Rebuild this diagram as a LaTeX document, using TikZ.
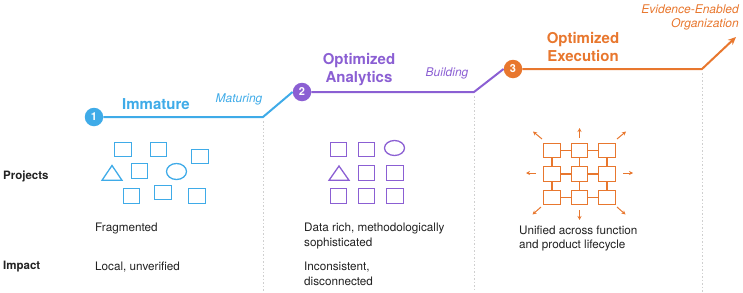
\documentclass[tikz,border=0pt]{standalone}
\usepackage{fontspec}
\setmainfont{TeX Gyre Heros}
\usetikzlibrary{arrows.meta,shapes.geometric}
\definecolor{cblue}{HTML}{3FABE8}
\definecolor{cpurple}{HTML}{8B5FD3}
\definecolor{corange}{HTML}{E8772E}
\definecolor{cgrid}{HTML}{CFCFCF}
\definecolor{ctext}{HTML}{222222}
\begin{document}
\begin{tikzpicture}[x=1pt,y=-1pt,
  stagedot/.style={circle, fill=#1, inner sep=0pt, minimum size=18.5pt, text=white, font=\bfseries\fontsize{11}{11}\selectfont},
  stageline/.style={line width=2pt, draw=#1},
  title/.style={font=\bfseries\fontsize{15}{18}\selectfont, align=center, text=#1, inner sep=0pt},
  phase/.style={font=\itshape\fontsize{12}{14}\selectfont, text=#1, inner sep=0pt},
  body/.style={font=\fontsize{11.7}{14.5}\selectfont, align=left, anchor=west, inner sep=0pt, text=ctext},
  rowlabel/.style={font=\bfseries\fontsize{11.5}{14}\selectfont, anchor=west, inner sep=0pt, text=ctext},
  sep/.style={cgrid, line width=0.8pt, dash pattern=on 1.5pt off 2pt},
  box/.style={draw=#1, line width=1.3pt, minimum width=16.5pt, minimum height=14.5pt, inner sep=0pt, outer sep=0pt},
  oval/.style={draw=#1, ellipse, line width=1.3pt, minimum width=20pt, minimum height=16pt, inner sep=0pt},
  shapeline/.style={draw=#1, line width=1.3pt, line join=miter},
  ray/.style={draw=corange, line width=1pt, -{Stealth[length=4pt,width=4pt]}},
  link/.style={draw=corange, line width=1.3pt}
]
\useasboundingbox (0,0) rectangle (743,292);

% separators
\coordinate (b1) at (263,117);
\coordinate (b2) at (474,92);
\coordinate (b3) at (702,69);
\coordinate (tip) at (736,37);
\coordinate (s1top) at (263,121);
\coordinate (s1bot) at (263,292);
\coordinate (s2top) at (474,96);
\coordinate (s2bot) at (474,292);
\coordinate (s3top) at (702,73);
\coordinate (s3bot) at (702,292);
\draw[sep] (s1top) -- (s1bot);
\draw[sep] (s2top) -- (s2bot);
\draw[sep] (s3top) -- (s3bot);

% stage dots
\node[stagedot=cblue] (c1) at (94,117) {1};
\node[stagedot=cpurple] (c2) at (302,92) {2};
\node[stagedot=corange] (c3) at (513,69) {3};

% timeline
\draw[stageline=cblue] (c1.east) -- (b1) -- (c2.west);
\draw[stageline=cpurple] (c2.east) -- (b2) -- (c3.west);
\draw[stageline=corange, -{Stealth[length=8pt,width=7pt]}] (c3.east) -- (b3) -- (tip);

% titles
\node[title=cblue] (t1) at (156,104) {Immature};
\node[title=cpurple] (t2) at (359,70) {Optimized\\Analytics};
\node[title=corange] (t3) at (583,46.5) {Optimized\\Execution};
\node[phase=cblue] (p1) at (239,99) {Maturing};
\node[phase=cpurple] (p2) at (447,73) {Building};
\node[phase=corange, align=right, anchor=east] (p3) at (739,17) {Evidence-Enabled\\Organization};

% row labels
\node[rowlabel] (projects) at (3,176) {Projects};
\node[rowlabel] (impact) at (3,267) {Impact};

% body texts
\node[body] (f1) at (95,229) {Fragmented};
\node[body] (i1) at (95,267) {Local, unverified};
\node[body] (f2) at (304,236) {Data rich, methodologically\\sophisticated};
\node[body] (i2) at (304,274) {Inconsistent,\\disconnected};
\node[body] (f3) at (519,238.5) {Unified across function\\and product lifecycle};

% blue fragmented shapes
\node[box=cblue] (ba) at (123,149.5) {};
\node[box=cblue] (bb) at (158.5,149.5) {};
\node[box=cblue] (bc) at (200,156.5) {};
\node[box=cblue] (bd) at (139.5,171) {};
\node[box=cblue] (be) at (131.5,196) {};
\node[box=cblue] (bf) at (163,192.5) {};
\node[box=cblue] (bg) at (197,196) {};
\node[oval=cblue] (bo) at (176.5,171.5) {};
\draw[shapeline=cblue] (112,165.5) -- (122,180.3) -- (102,180.3) -- cycle;

% purple grid shapes
\node[box=cpurple] (pa) at (338.5,149.5) {};
\node[box=cpurple] (pb) at (366.5,149.5) {};
\node[oval=cpurple, minimum height=15pt] (po) at (394.5,148) {};
\node[box=cpurple] (pd) at (366.5,173) {};
\node[box=cpurple] (pe) at (395,173) {};
\node[box=cpurple] (pf) at (338.5,196) {};
\node[box=cpurple] (pg) at (366.5,196) {};
\node[box=cpurple] (ph) at (395,196) {};
\draw[shapeline=cpurple] (339,166) -- (349,180.3) -- (329,180.3) -- cycle;

% orange connected grid
\foreach \c/\x in {1/552,2/579.5,3/607}
  \foreach \r/\y in {1/150.5,2/174,3/197.5}
    \node[box=corange] (g\r\c) at (\x,\y) {};
\foreach \r in {1,2,3}{
  \draw[link] (g\r1) -- (g\r2);
  \draw[link] (g\r2) -- (g\r3);
  \draw[link] (g1\r) -- (g2\r);
  \draw[link] (g2\r) -- (g3\r);
}
% outward arrows
\coordinate (aN0) at (579.5,138); \coordinate (aN1) at (579.5,128);
\coordinate (aS0) at (579.5,210); \coordinate (aS1) at (579.5,220);
\coordinate (aW0) at (536,173); \coordinate (aW1) at (526,173);
\coordinate (aE0) at (623,173); \coordinate (aE1) at (633,173);
\coordinate (aNW0) at (542,139); \coordinate (aNW1) at (533,131.5);
\coordinate (aNE0) at (617,139); \coordinate (aNE1) at (626,131.5);
\coordinate (aSW0) at (541,207); \coordinate (aSW1) at (532.5,214.5);
\coordinate (aSE0) at (617,207); \coordinate (aSE1) at (625.5,214.5);
\foreach \d in {N,S,W,E,NW,NE,SW,SE}
  \draw[ray] (a\d0) -- (a\d1);
\end{tikzpicture}
\end{document}
